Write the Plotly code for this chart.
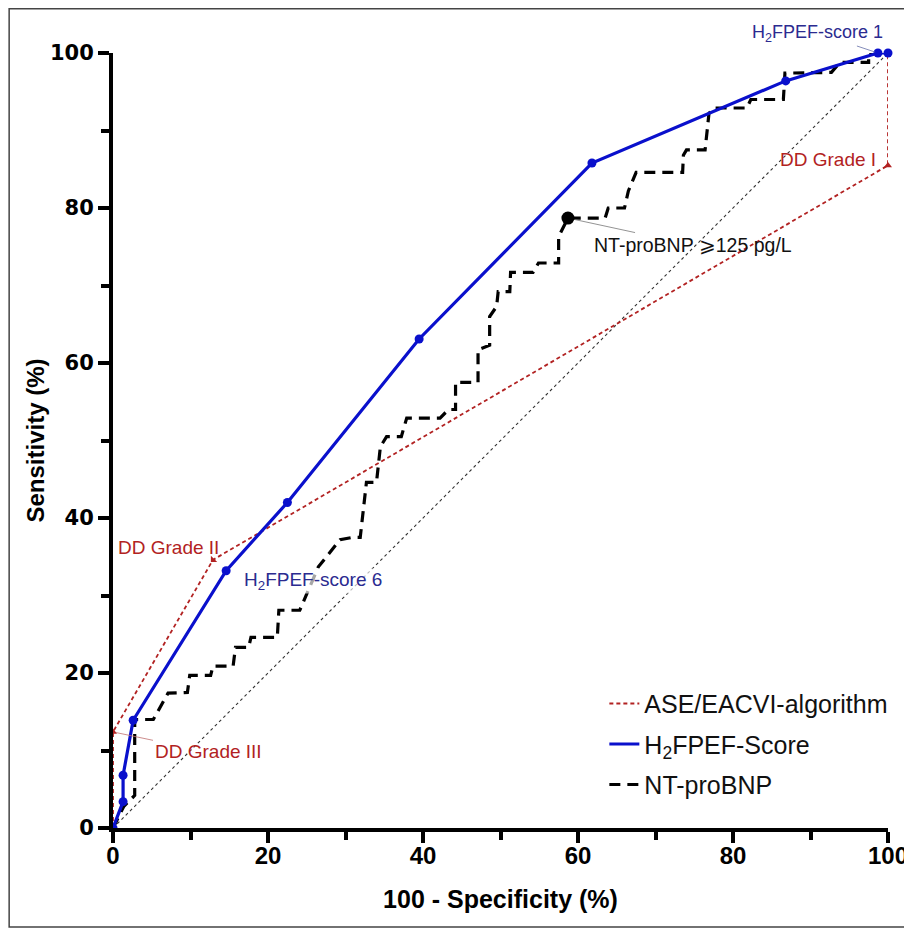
import plotly.graph_objects as go

# ---------------- data ----------------
diag_x = [0, 100]
diag_y = [0, 100]

ase_x = [0, 0, 12.9, 100, 100]
ase_y = [0, 12.4, 34.6, 85.5, 100]
ase_mark_x = [0, 12.9, 100]
ase_mark_y = [12.4, 34.6, 85.5]

h2_x = [0, 1.3, 1.3, 2.6, 14.6, 22.5, 39.5, 61.8, 86.8, 98.7, 100]
h2_y = [0, 3.4, 6.8, 13.9, 33.2, 42.0, 63.1, 85.8, 96.4, 100, 100]

nt_x = [0, 1.4, 2.8, 2.8, 5.2, 7.1, 9.6, 9.9, 12.6, 12.9, 15.5, 15.8, 17.5, 17.8,
        21.2, 21.4, 24.1, 26.5, 29.3, 30.9, 31.9, 32.7, 34.0, 34.5, 35.3, 37.2,
        37.9, 42.2, 43.3, 44.2, 44.2, 46.1, 47.1, 47.1, 48.6, 48.6, 49.5, 49.7,
        51.2, 51.3, 54.2, 54.9, 57.5, 57.5, 58.7, 63.5, 63.9, 66.0, 66.5, 67.5,
        73.5, 73.6, 74.0, 76.4, 76.9, 77.5, 81.8, 82.3, 86.5, 86.7, 92.7, 93.8,
        97.5, 97.5, 100]
nt_y = [0, 2.8, 4.2, 14.0, 14.0, 17.4, 17.5, 19.7, 19.7, 20.9, 20.9, 23.3, 23.3, 24.6,
        24.6, 28.1, 28.1, 33.7, 37.2, 37.5, 37.5, 44.6, 44.6, 49.2, 50.5, 50.5,
        52.9, 52.9, 54.0, 54.0, 57.5, 57.5, 57.5, 61.7, 62.3, 66.0, 67.3, 69.2,
        69.2, 71.7, 71.7, 72.9, 72.9, 76.3, 78.7, 78.7, 80.0, 80.0, 82.2, 84.6,
        84.6, 86.8, 87.5, 87.5, 92.2, 92.9, 92.9, 94.0, 94.0, 97.4, 97.5, 98.8,
        98.8, 100, 100]
nt_cut_x = [58.7]
nt_cut_y = [78.7]

x_ticks = [0, 20, 40, 60, 80, 100]
y_ticks = [0, 20, 40, 60, 80, 100]

RED = "#B22222"
BLUE = "#0A10CC"
NAVY = "#2B2B90"

fig = go.Figure()

fig.add_trace(go.Scatter(x=diag_x, y=diag_y, mode="lines",
                         line=dict(color="#333333", width=1.1, dash="dot"),
                         showlegend=False, hoverinfo="skip"))

fig.add_trace(go.Scatter(x=ase_x, y=ase_y, mode="lines", name="ASE/EACVI-algorithm",
                         legendgroup="a", legendrank=1, cliponaxis=False,
                         line=dict(color=RED, width=1.8, dash="4px,3px")))
fig.add_trace(go.Scatter(x=ase_mark_x, y=ase_mark_y, mode="markers", showlegend=False,
                         marker=dict(color=RED, size=7,
                                     symbol=["triangle-up", "triangle-sw", "triangle-up"]),
                         cliponaxis=False))

fig.add_trace(go.Scatter(x=nt_x, y=nt_y, mode="lines", name="NT-proBNP",
                         legendgroup="c", legendrank=3,
                         line=dict(color="black", width=3.2, dash="11px,7px")))
fig.add_trace(go.Scatter(x=nt_cut_x, y=nt_cut_y, mode="markers", showlegend=False,
                         marker=dict(color="black", size=13)))

fig.add_trace(go.Scatter(x=h2_x, y=h2_y, mode="lines", name="H<sub>2</sub>FPEF-Score",
                         legendgroup="b", legendrank=2,
                         line=dict(color=BLUE, width=3.2), cliponaxis=False))
fig.add_trace(go.Scatter(x=h2_x, y=h2_y, mode="markers", showlegend=False,
                         marker=dict(color=BLUE, size=9), cliponaxis=False))

ann_font = "Liberation Sans, Arial, sans-serif"
annotations = [
    dict(x=98.7, y=100, text="H<sub>2</sub>FPEF-score 1", showarrow=True, arrowhead=0,
         arrowwidth=0.8, arrowcolor="#6670A8", ax=-60, ay=-20, standoff=3,
         font=dict(color=NAVY, size=18, family=ann_font)),
    dict(x=25.8, y=31.9, text="H<sub>2</sub>FPEF-score 6", showarrow=False,
         bgcolor="rgba(255,255,255,0.65)", borderpad=0,
         font=dict(color=NAVY, size=19, family=ann_font)),
    dict(x=7.2, y=36.2, text="DD Grade II", showarrow=False,
         font=dict(color=RED, size=19, family=ann_font)),
    dict(x=0, y=12.4, text="DD Grade III", showarrow=True, arrowhead=0,
         arrowwidth=0.8, arrowcolor="#C07070", ax=95, ay=20, standoff=3,
         font=dict(color=RED, size=19, family=ann_font)),
    dict(x=92.3, y=86.3, text="DD Grade I", showarrow=False,
         font=dict(color=RED, size=19, family=ann_font)),
    dict(x=58.7, y=78.7, text="NT-proBNP \u2A7E125 pg/L", showarrow=True, arrowhead=0,
         arrowwidth=0.8, arrowcolor="#777777", ax=125, ay=27, standoff=7,
         font=dict(color="#111111", size=19.5, family=ann_font)),
]

fig.update_layout(
    width=904, height=921,
    paper_bgcolor="white", plot_bgcolor="white",
    margin=dict(l=105, r=24, t=45, b=101, autoexpand=False),
    annotations=annotations,
    legend=dict(x=0.634, y=0.19, xanchor="left", yanchor="top",
                font=dict(size=25, family=ann_font, color="#111111"),
                bgcolor="rgba(0,0,0,0)", tracegroupgap=5, traceorder="grouped"),
    shapes=[dict(type="rect", xref="paper", yref="paper",
                 x0=-0.134, x1=1.027, y0=-0.1277, y1=1.057,
                 line=dict(color="#444444", width=1.5))],
)

fig.update_xaxes(range=[0, 100], tickvals=x_ticks, ticktext=[str(v) for v in x_ticks],
                 showline=True, linecolor="black", linewidth=4, automargin=False,
                 ticks="outside", ticklen=11, tickwidth=4, tickcolor="black",
                 ticklabelstandoff=-8,
                 minor=dict(dtick=10, tick0=0, ticks="outside", ticklen=8, tickwidth=4,
                            tickcolor="black", showgrid=False),
                 showgrid=False, zeroline=False,
                 tickfont=dict(family="Liberation Sans, Arial", size=24,
                               color="black", weight="bold"),
                 title=dict(text="100 - Specificity (%)", standoff=24,
                            font=dict(family="Liberation Sans, Arial",
                                      size=25, color="black", weight="bold")))
fig.update_yaxes(range=[0, 100], tickvals=y_ticks, ticktext=[str(v) for v in y_ticks],
                 showline=True, linecolor="black", linewidth=4, automargin=False,
                 ticks="outside", ticklen=11, tickwidth=4, tickcolor="black",
                 minor=dict(dtick=10, tick0=0, ticks="outside", ticklen=8, tickwidth=4,
                            tickcolor="black", showgrid=False),
                 showgrid=False, zeroline=False,
                 tickfont=dict(family="DejaVu Sans", size=21, color="black", weight="bold"),
                 title=dict(text="Sensitivity (%)", standoff=0,
                            font=dict(family="Liberation Sans, Arial",
                                      size=24, color="black", weight="bold")))

fig.write_html("out.html")
